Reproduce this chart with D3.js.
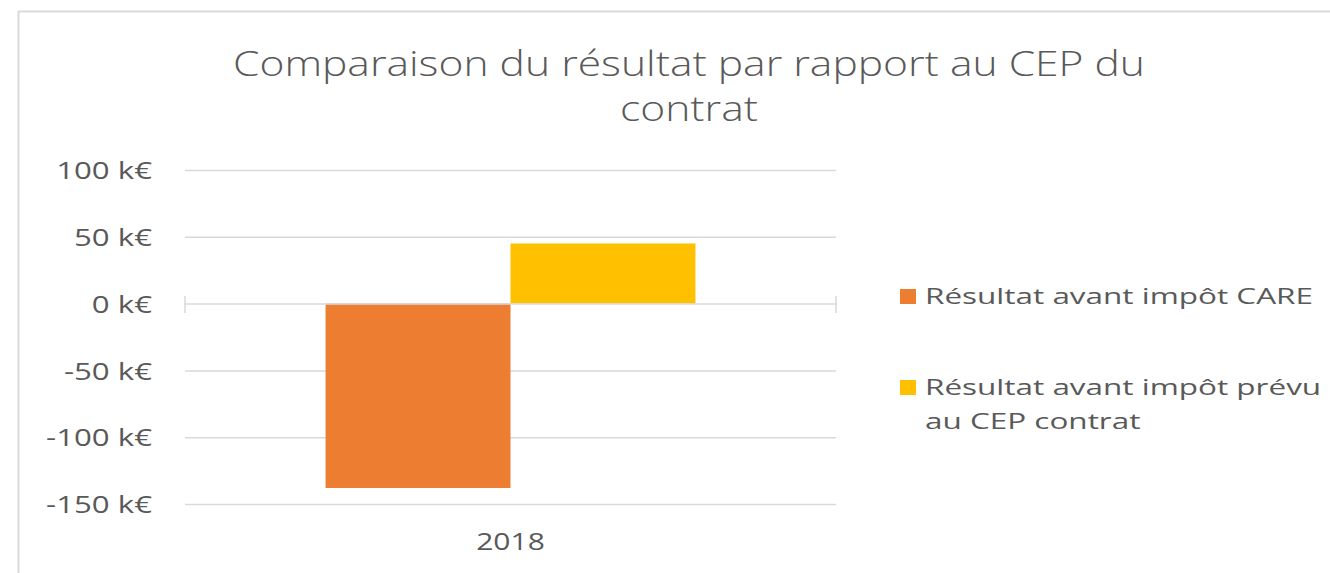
<!DOCTYPE html>
<html>
<head>
<meta charset="utf-8">
<script src="https://cdn.jsdelivr.net/npm/d3@7"></script>
<style>
  html, body { margin: 0; padding: 0; background: #fff; }
  svg { display: block; }
</style>
</head>
<body>
<script>
const categories = ['2018']
const seriesNames = ['Résultat avant impôt CARE', 'Résultat avant impôt prévu au CEP contrat']
const seriesValues = [[-138], [45]]
const seriesColors = ['#ed7d31', '#ffc000']
const yTicks = [-150, -100, -50, 0, 50, 100]
const titleLines = ['Comparaison du résultat par rapport au CEP du', 'contrat']

const width = 1330, height = 573
const font = '"Open Sans", sans-serif'
const textColor = '#595959'
const svg = d3.select('body').append('svg').attr('width', width).attr('height', height)

// the source image is stretched sideways, so text is widened a bit
function stretch(sel, sx) {
    sel.each(function () {
        const w = this.getComputedTextLength()
        d3.select(this).attr('textLength', w * sx).attr('lengthAdjust', 'spacingAndGlyphs')
    })
}

// chart frame
svg.append('rect').attr('x', 18.5).attr('y', 11.5).attr('width', width + 10).attr('height', height + 10)
    .attr('fill', '#fff').attr('stroke', '#d9d9d9').attr('stroke-width', 2)

// scales
const x0 = d3.scaleBand().domain(categories).range([185, 836]).paddingInner(0).paddingOuter(0.38)
const x1 = d3.scaleBand().domain(d3.range(seriesNames.length)).range([0, x0.bandwidth()])
const y = d3.scaleLinear().domain([-150, 100]).range([504, 170])

// gridlines
svg.append('g').selectAll('line').data(yTicks.filter(d => d !== 0)).join('line')
    .attr('x1', 185).attr('x2', 836)
    .attr('y1', d => y(d) + 0.5).attr('y2', d => y(d) + 0.5)
    .attr('stroke', '#d9d9d9').attr('stroke-width', 1.5)

// y axis labels
const yAxis = d3.axisLeft(y).tickValues(yTicks).tickSize(0).tickPadding(0)
    .tickFormat(d => d + ' k€')
const gy = svg.append('g').attr('transform', 'translate(152,0)').call(yAxis)
gy.select('.domain').remove()
gy.selectAll('text').attr('font-family', font).attr('font-size', 24)
    .attr('fill', textColor).attr('dy', '0.36em')
stretch(gy.selectAll('text'), 1.3)

// bars
const gBars = svg.append('g')
categories.forEach((c, ci) => {
    seriesValues.forEach((vals, si) => {
        const v = vals[ci]
        gBars.append('rect')
            .attr('x', x0(c) + x1(si))
            .attr('width', x1.bandwidth())
            .attr('y', y(Math.max(0, v)))
            .attr('height', Math.abs(y(v) - y(0)))
            .attr('fill', seriesColors[si])
    })
})

// zero axis with end ticks
const gx = svg.append('g').attr('transform', `translate(0,${y(0) + 0.5})`)
gx.append('line').attr('x1', 185).attr('x2', 836).attr('stroke', '#d9d9d9').attr('stroke-width', 1.5)
gx.selectAll('.tk').data([185, 836]).join('line').attr('class', 'tk')
    .attr('x1', d => d).attr('x2', d => d).attr('y1', -8).attr('y2', 9)
    .attr('stroke', '#d9d9d9').attr('stroke-width', 1.5)

// category labels
const cat = svg.append('g').selectAll('text').data(categories).join('text')
    .attr('x', d => x0(d) + x0.bandwidth() / 2).attr('y', 550)
    .attr('text-anchor', 'middle')
    .attr('font-family', font).attr('font-size', 24).attr('fill', textColor)
    .text(d => d)
stretch(cat, 1.25)

// title
const title = svg.append('g').selectAll('text').data(titleLines).join('text')
    .attr('x', 689).attr('y', (d, i) => 76 + i * 45).attr('text-anchor', 'middle')
    .attr('font-family', font).attr('font-size', 35).attr('font-weight', 300)
    .attr('fill', textColor).text(d => d)
const w0 = title.nodes()[0].getComputedTextLength()
stretch(title, 912 / w0)

// legend
const legendRows = [
    { lines: [seriesNames[0]], y: 304 },
    { lines: ['Résultat avant impôt prévu', 'au CEP contrat'], y: 395 }
]
const gl = svg.append('g')
legendRows.forEach((r, i) => {
    gl.append('rect').attr('x', 900).attr('y', r.y - 15).attr('width', 16).attr('height', 15)
        .attr('fill', seriesColors[i])
    r.lines.forEach((ln, j) => {
        const t = gl.append('text').attr('x', 925).attr('y', r.y + j * 34)
            .attr('font-family', font).attr('font-size', 22)
            .attr('fill', textColor).text(ln)
        stretch(t, 1.43)
    })
})
</script>
</body>
</html>
